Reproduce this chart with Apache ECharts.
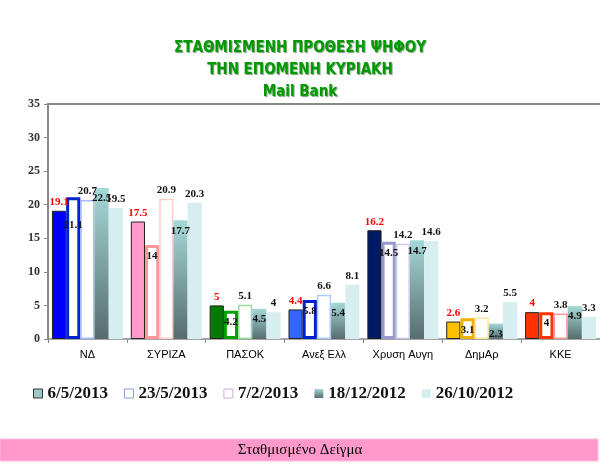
<!DOCTYPE html>
<html>
<head>
<meta charset="utf-8">
<script src="https://cdn.jsdelivr.net/npm/echarts@6/dist/echarts.min.js"></script>
<style>
  html, body { margin: 0; padding: 0; background: #fff; }
  #chart { width: 600px; height: 464px; }
</style>
</head>
<body>
<div id="chart"></div>
<script>
// κόμματα
const parties = ['ΝΔ', 'ΣΥΡΙΖΑ', 'ΠΑΣΟΚ', 'Ανεξ Ελλ', 'Χρυση Αυγη', 'ΔημΑρ', 'ΚΚΕ']
// δημοσκοπήσεις
const polls = ['6/5/2013', '23/5/2013', '7/2/2013', '18/12/2012', '26/10/2012']
const v20130506 = [19.1, 17.5, 5, 4.4, 16.2, 2.6, 4]
const v20130523 = [21.1, 14, 4.2, 5.8, 14.5, 3.1, 4]
const v20130207 = [20.7, 20.9, 5.1, 6.6, 14.2, 3.2, 3.8]
const v20121218 = [22.5, 17.7, 4.5, 5.4, 14.7, 2.3, 4.9]
const v20121026 = [19.5, 20.3, 4, 8.1, 14.6, 5.5, 3.3]
const yTicks = [0, 5, 10, 15, 20, 25, 30, 35]
const titleLines = ['ΣΤΑΘΜΙΣΜΕΝΗ ΠΡΟΘΕΣΗ ΨΗΦΟΥ', 'ΤΗΝ ΕΠΟΜΕΝΗ ΚΥΡΙΑΚΗ', 'Mail Bank']

// χρώματα ανά κόμμα
const fillColors = ['#0000ff', '#ff99cc', '#007a00', '#3366ff', '#001a66', '#ffc000', '#ff3300']
const thickBorders = ['#0022cc', '#ff9999', '#00a000', '#0022cc', '#9999cc', '#f0b000', '#ff3300']
const thinBorders = ['#aabbff', '#ffcccc', '#99dd99', '#aaccff', '#ccccee', '#ffe699', '#ff9999']

const serif = 'Liberation Serif'
const grad = new echarts.graphic.LinearGradient(0, 0, 0, 1, [
  { offset: 0, color: '#a6d8d8' },
  { offset: 1, color: '#566c6c' }
])

const labelBase = {
  show: true,
  fontFamily: serif,
  fontWeight: 'bold',
  fontSize: 11,
  color: '#111'
}

const chart = echarts.init(document.getElementById('chart'))
const option = {
  animation: false,
  backgroundColor: '#fff',
  // τρεις γραμμές τίτλου, κεντραρισμένες
  title: titleLines.map((t, i) => ({
    text: t,
    left: 'center',
    top: 36 + i * 22,
    textStyle: {
      fontFamily: 'DejaVu Sans Condensed',
      fontWeight: 'bold',
      fontSize: 15,
      color: '#009900',
      textShadowColor: 'rgba(0,60,0,0.5)',
      textShadowBlur: 1,
      textShadowOffsetX: 1,
      textShadowOffsetY: 1
    }
  })),
  legend: {
    left: 28,
    top: 380,
    itemWidth: 9,
    itemHeight: 9,
    itemGap: 16,
    icon: 'rect',
    itemStyle: { borderWidth: 1 },
    textStyle: { fontFamily: serif, fontWeight: 'bold', fontSize: 17, color: '#111' },
    data: polls
  },
  grid: { left: 48, right: 0, top: 104, bottom: 125 },
  xAxis: [{
    type: 'category',
    data: parties,
    axisLine: { lineStyle: { color: '#888', width: 1.5 } },
    axisTick: { show: true, length: 4, lineStyle: { color: '#888' } },
    axisLabel: { color: '#000', fontFamily: 'Liberation Sans', fontSize: 11, margin: 10 }
  }, {
    type: 'category',
    data: parties,
    position: 'top',
    axisLine: { lineStyle: { color: '#888', width: 2 } },
    axisTick: { show: false },
    axisLabel: { show: false }
  }],
  yAxis: {
    type: 'value',
    min: yTicks[0],
    max: yTicks[yTicks.length - 1],
    interval: 5,
    axisLine: { show: true, lineStyle: { color: '#888', width: 2 } },
    axisTick: { show: true, length: 4, lineStyle: { color: '#888' } },
    splitLine: { show: false },
    axisLabel: { fontFamily: serif, fontWeight: 'bold', fontSize: 12, color: '#333', margin: 8 }
  },
  graphic: [{
    type: 'rect',
    shape: { x: 0, y: 439, width: 598, height: 22 },
    style: { fill: '#ff99cc', stroke: '#ffb8dc', lineWidth: 1 }
  }, {
    type: 'text',
    x: 300,
    y: 450,
    style: {
      text: 'Σταθμισμένο Δείγμα',
      fill: '#000',
      font: '15px "Liberation Serif"',
      textAlign: 'center',
      textVerticalAlign: 'middle'
    }
  }],
  series: [{
    name: polls[0],
    type: 'bar',
    barGap: '0%',
    barCategoryGap: '10%',
    itemStyle: { color: '#9cc8c8', borderColor: '#333', borderWidth: 1 },
    label: Object.assign({}, labelBase, { position: 'top', distance: 3, color: '#ff0000' }),
    data: v20130506.map((v, i) => ({
      value: v,
      itemStyle: { color: fillColors[i], borderColor: '#222', borderWidth: 1 }
    }))
  }, {
    name: polls[1],
    type: 'bar',
    itemStyle: { color: '#fff', borderColor: '#8899dd', borderWidth: 1 },
    label: Object.assign({}, labelBase, { position: 'insideTop', distance: 6 }),
    data: v20130523.map((v, i) => ({
      value: v,
      itemStyle: { color: '#fff', borderColor: thickBorders[i], borderWidth: 3 },
      label: i === 0 ? { offset: [0, 16] } : {}
    }))
  }, {
    name: polls[2],
    type: 'bar',
    itemStyle: { color: '#fff', borderColor: '#ccaadd', borderWidth: 1 },
    label: Object.assign({}, labelBase, { position: 'top', distance: 3 }),
    data: v20130207.map((v, i) => ({
      value: v,
      itemStyle: { color: '#fff', borderColor: thinBorders[i], borderWidth: 1.5 }
    }))
  }, {
    name: polls[3],
    type: 'bar',
    itemStyle: { color: grad },
    label: Object.assign({}, labelBase, { position: 'insideTop', distance: 5 }),
    data: v20121218
  }, {
    name: polls[4],
    type: 'bar',
    itemStyle: { color: '#d6eef0' },
    label: Object.assign({}, labelBase, { position: 'top', distance: 3 }),
    data: v20121026
  }]
}
chart.setOption(option)
</script>
</body>
</html>
